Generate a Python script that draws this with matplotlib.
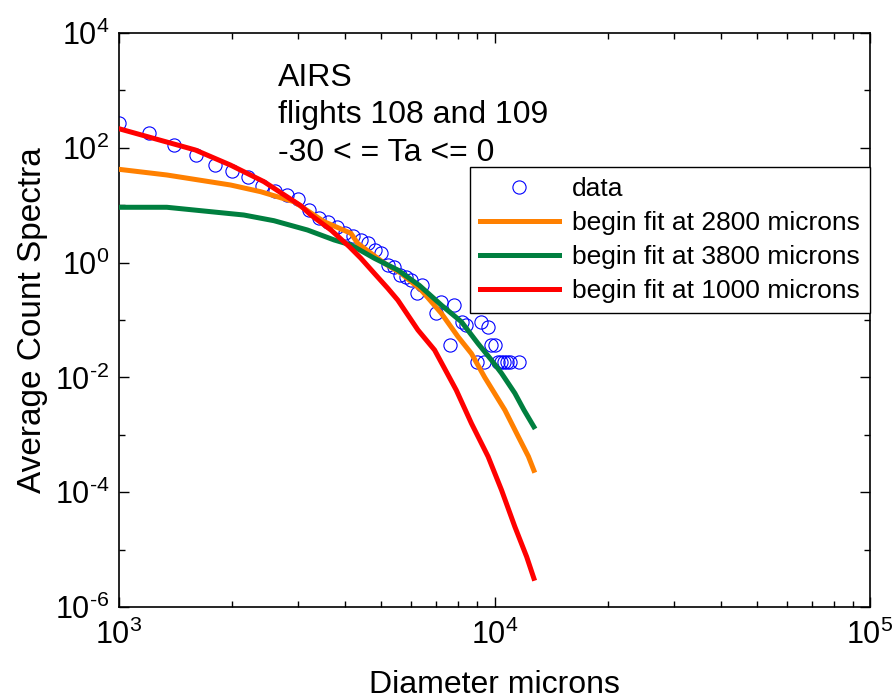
import matplotlib
matplotlib.use("Agg")
import math
import matplotlib.pyplot as plt
from matplotlib.ticker import LogLocator, FuncFormatter, NullFormatter

plt.rcParams['font.family'] = ['Liberation Sans', 'DejaVu Sans']
plt.rcParams['mathtext.fontset'] = 'custom'
plt.rcParams['mathtext.rm'] = 'Liberation Sans'
plt.rcParams['mathtext.it'] = 'Liberation Sans:italic'
plt.rcParams['mathtext.bf'] = 'Liberation Sans:bold'

# ---- data ----
data_x = [1000, 1200, 1400, 1600, 1800, 2000, 2200, 2400, 2600, 2800, 3000,
          3200, 3400, 3600, 3800, 4000, 4200, 4400, 4600, 4800, 5000, 5200,
          5400, 5600, 5800, 6000, 6200, 6400, 7000, 7200, 7600, 7800, 8200,
          8400, 9000, 9200, 9400, 9600, 9800, 10000, 10200, 10400, 10600,
          10800, 11000, 11600]
data_y = [267, 181, 112, 75, 50, 39.6, 31, 21.5, 18, 15, 12.8,
          8.3, 6.1, 5.0, 4.1, 3.3, 2.9, 2.5, 2.2, 1.66, 1.46, 0.92,
          0.85, 0.62, 0.57, 0.50, 0.30, 0.41, 0.13, 0.209, 0.0367, 0.18, 0.093,
          0.082, 0.0188, 0.093, 0.0188, 0.076, 0.0367, 0.0367, 0.0188, 0.0188, 0.0188,
          0.0188, 0.0188, 0.0188]

fit2800_x = [1000, 1341, 1981, 2383, 2924, 3518, 4146, 4320, 5090, 5640,
             6380, 7217, 7998, 8682, 9420, 10656, 11570, 12310, 12730]
fit2800_y = [42.2, 33.6, 22.5, 17.2, 11.5, 5.16, 3.24, 2.17, 0.973, 0.65,
             0.333, 0.131, 0.051, 0.026, 0.010, 2.7e-3, 9.3e-4, 4.2e-4, 2.4e-4]

fit3800_x = [1000, 1341, 2149, 2586, 3175, 3741, 4146, 4786, 5527, 6310,
             7217, 8165, 9036, 9818, 10440, 11330, 11980, 12730]
fit3800_y = [9.2, 9.2, 6.75, 5.37, 3.7, 2.48, 2.03, 1.19, 0.743, 0.40,
             0.182, 0.093, 0.039, 0.020, 0.0118, 5.3e-3, 2.7e-3, 1.38e-3]

fit1000_x = [1000, 1597, 1981, 2432, 3048, 3242, 3667, 4104, 4407, 4786,
             5197, 5527, 6252, 6925, 7910, 8682, 9617, 10440, 11330, 12180, 12730]
fit1000_y = [215, 91.6, 50, 25.7, 9.8, 6.76, 3.7, 1.9, 1.19, 0.65,
             0.357, 0.222, 0.067, 0.030, 6.0e-3, 1.58e-3, 4.16e-4, 1.09e-4, 2.5e-5, 7.5e-6, 3.16e-6]

labels = ['data', 'begin fit at 2800 microns', 'begin fit at 3800 microns',
          'begin fit at 1000 microns']
annotation = 'AIRS\nflights 108 and 109\n-30 < = Ta <= 0'

# ---- figure ----
fig = plt.figure(figsize=(8.95, 7.0), dpi=100)
ax = fig.add_axes([119/895, 1 - 607/700, (870-119)/895, (607-33)/700])

ax.plot(data_x, data_y, 'o', mfc='none', mec='#0000FF', ms=9.5, mew=0.8,
        label=labels[0], zorder=2)
ax.plot(fit2800_x, fit2800_y, color='#FF8000', lw=3.6, label=labels[1], zorder=3)
ax.plot(fit3800_x, fit3800_y, color='#007F3F', lw=3.6, label=labels[2], zorder=3)
ax.plot(fit1000_x, fit1000_y, color='#FF0000', lw=3.6, label=labels[3], zorder=4)

ax.set_xscale('log')
ax.set_yscale('log')
ax.set_xlim(1e3, 1e5)
ax.set_ylim(1e-6, 1e4)

ax.xaxis.set_major_locator(LogLocator(base=10, numticks=10))
ax.xaxis.set_minor_locator(LogLocator(base=10, subs=range(2, 10), numticks=20))
ax.xaxis.set_minor_formatter(NullFormatter())
ax.yaxis.set_major_locator(LogLocator(base=100, numticks=20))
ax.yaxis.set_minor_locator(LogLocator(base=10, subs=[], numticks=20))
ax.yaxis.set_minor_formatter(NullFormatter())

def fmt(v, pos):
    e = int(round(math.log10(v)))
    if e < 0:
        return r'$\mathregular{10^{\text{-}%d}}$' % (-e)
    return r'$\mathregular{10^{%d}}$' % e
ax.xaxis.set_major_formatter(FuncFormatter(fmt))
ax.yaxis.set_major_formatter(FuncFormatter(fmt))

ax.tick_params(which='both', direction='in', top=True, right=True,
               labelsize=22, width=1.0)
ax.tick_params(which='major', length=7)
ax.tick_params(which='minor', length=4)
ax.tick_params(axis='x', pad=9)
ax.tick_params(axis='y', pad=7)
for s in ax.spines.values():
    s.set_linewidth(1.2)

ax.set_xlabel('Diameter microns', fontsize=23, labelpad=14)
ax.set_ylabel('Average Count Spectra', fontsize=24, labelpad=5)

ax.text(0.212, 0.948, annotation, transform=ax.transAxes, fontsize=23,
        va='top', ha='left', linespacing=1.33)

leg = ax.legend(loc='upper right', bbox_to_anchor=(1.0, 0.767), fontsize=19,
                frameon=True, fancybox=False, edgecolor='black',
                borderaxespad=0, handlelength=3.0, handletextpad=0.5,
                labelspacing=0.38, borderpad=0.38, framealpha=1)
leg.get_frame().set_linewidth(1.0)

fig.savefig('out.png', dpi=100)
